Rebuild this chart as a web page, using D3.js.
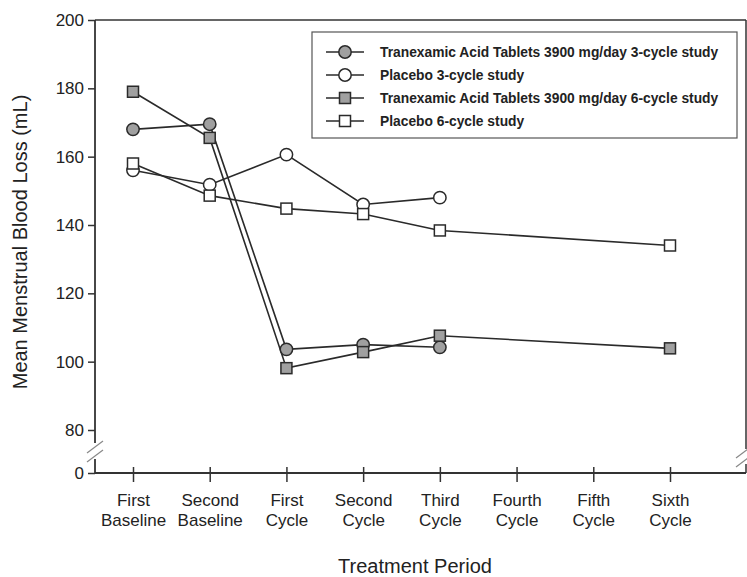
<!DOCTYPE html>
<html><head><meta charset="utf-8">
<script src="https://cdn.jsdelivr.net/npm/d3@7"></script>
<style>body{margin:0;background:#fff}svg{display:block}text{font-family:"Liberation Sans",Arial,sans-serif;fill:#222}</style>
</head><body>
<script>
const categories = ["First|Baseline","Second|Baseline","First|Cycle","Second|Cycle","Third|Cycle","Fourth|Cycle","Fifth|Cycle","Sixth|Cycle"];
const yTicks = [0,80,100,120,140,160,180,200];
const txa3 = [168,169.5,103.6,105,104.2];
const txa3Cats = [0,1,2,3,4];
const pla3 = [156,151.8,160.6,146,148];
const pla3Cats = [0,1,2,3,4];
const txa6 = [179,165.5,98.1,102.8,107.6,103.9];
const txa6Cats = [0,1,2,3,4,7];
const pla6 = [158,148.6,144.8,143.2,138.4,134];
const pla6Cats = [0,1,2,3,4,7];
const seriesNames = ["Tranexamic Acid Tablets 3900 mg/day 3-cycle study","Placebo 3-cycle study","Tranexamic Acid Tablets 3900 mg/day 6-cycle study","Placebo 6-cycle study"];

const W=747,H=577;
const svg=d3.select("body").append("svg").attr("width",W).attr("height",H);
const x=d3.scalePoint().domain(categories).range([133,670]).padding(0);
const y=d3.scaleLinear().domain([0,80,200]).range([473,430,20]);
const L=95,R=746,T=20,B=473;
const ax="#333";

// frame
const g=svg.append("g");
g.append("line").attr("x1",L).attr("x2",R).attr("y1",T).attr("y2",T).attr("stroke",ax).attr("stroke-width",1.5);
g.append("line").attr("x1",L).attr("x2",R).attr("y1",B).attr("y2",B).attr("stroke",ax).attr("stroke-width",1.8);
g.append("line").attr("x1",L).attr("x2",L).attr("y1",T).attr("y2",443).attr("stroke",ax).attr("stroke-width",1.8);
g.append("line").attr("x1",L).attr("x2",L).attr("y1",459).attr("y2",B).attr("stroke",ax).attr("stroke-width",1.8);
g.append("line").attr("x1",R).attr("x2",R).attr("y1",T).attr("y2",449).attr("stroke",ax).attr("stroke-width",1.5);
g.append("line").attr("x1",R).attr("x2",R).attr("y1",464).attr("y2",B).attr("stroke",ax).attr("stroke-width",1.5);
// break slashes
[[L,447],[L,456],[R-2,452],[R-2,461]].forEach(([cx,cy])=>{
  g.append("line").attr("x1",cx-8).attr("y1",cy+6).attr("x2",cx+8).attr("y2",cy-6).attr("stroke","#888").attr("stroke-width",1.2);
});

// y axis
const yAxis=d3.axisLeft(y).tickValues(yTicks).tickSize(7).tickFormat(d3.format("d"));
const ya=svg.append("g").attr("transform",`translate(${L},0)`).call(yAxis);
ya.select(".domain").remove();
ya.selectAll(".tick line").attr("stroke",ax).attr("stroke-width",1.5);
ya.selectAll(".tick text").attr("x",-11).style("font-size","17px").style("font-family","Liberation Sans, Arial, sans-serif").attr("fill","#222");

// x axis
const xAxis=d3.axisBottom(x).tickSize(9).tickFormat("");
const xa=svg.append("g").attr("transform",`translate(0,${B})`).call(xAxis);
xa.select(".domain").remove();
xa.selectAll(".tick line").attr("y1",-6).attr("stroke",ax).attr("stroke-width",1.5);
xa.selectAll(".tick").each(function(d){
  const parts=d.split("|");
  const t=d3.select(this).append("text").attr("text-anchor","middle").style("font-size","17px").attr("fill","#222");
  t.append("tspan").attr("x",0).attr("y",33).text(parts[0]);
  t.append("tspan").attr("x",0).attr("y",53).text(parts[1]);
});

// titles
svg.append("text").attr("x",415).attr("y",573).attr("text-anchor","middle").style("font-size","20px").text("Treatment Period");
svg.append("text").attr("transform","translate(27,242) rotate(-90)").attr("text-anchor","middle").style("font-size","20px").text("Mean Menstrual Blood Loss (mL)");

// series
const series=[
  {vals:txa3,cats:txa3Cats,shape:"circle",fill:"#a0a0a0"},
  {vals:pla3,cats:pla3Cats,shape:"circle",fill:"#fff"},
  {vals:txa6,cats:txa6Cats,shape:"square",fill:"#a0a0a0"},
  {vals:pla6,cats:pla6Cats,shape:"square",fill:"#fff"}
];
const line=d3.line().x(d=>x(categories[d.c])).y(d=>y(d.v));
series.forEach(s=>{s.pts=s.vals.map((v,i)=>({v,c:s.cats[i]}));});
series.forEach(s=>{
  svg.append("path").attr("d",line(s.pts)).attr("fill","none").attr("stroke","#2a2a2a").attr("stroke-width",1.6);
});
function marker(sel,s,cx,cy){
  if(s.shape==="circle") sel.append("circle").attr("cx",cx).attr("cy",cy).attr("r",6.2).attr("fill",s.fill).attr("stroke","#2a2a2a").attr("stroke-width",1.5);
  else sel.append("rect").attr("x",cx-5.5).attr("y",cy-5.5).attr("width",11).attr("height",11).attr("fill",s.fill).attr("stroke","#2a2a2a").attr("stroke-width",1.5);
}
series.forEach(s=>{
  s.pts.forEach(p=>marker(svg,s,x(categories[p.c]),y(p.v)));
});

// legend
const lg=svg.append("g");
lg.append("rect").attr("x",312).attr("y",32).attr("width",425).attr("height",106).attr("fill","#fff").attr("stroke","#555").attr("stroke-width",1.2);
const rowsY=[52,75,98,121];
series.forEach((s,i)=>{
  const yy=rowsY[i];
  lg.append("line").attr("x1",326).attr("x2",364).attr("y1",yy).attr("y2",yy).attr("stroke","#2a2a2a").attr("stroke-width",1.6);
  marker(lg,s,345,yy);
  lg.append("text").attr("x",380).attr("y",yy+5).style("font-size","13.8px").style("font-weight","bold").attr("fill","#333").text(seriesNames[i]);
});
</script>
</body></html>
